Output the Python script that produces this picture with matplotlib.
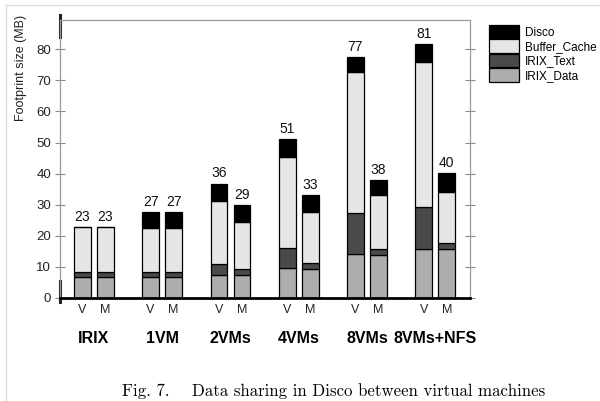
import matplotlib
matplotlib.use("Agg")
import matplotlib.pyplot as plt
from matplotlib.patches import Patch
from matplotlib.lines import Line2D
import numpy as np

plt.rcParams['font.family'] = ['Liberation Sans', 'DejaVu Sans']

# groups and the two bars per group
groups = ["IRIX", "1VM", "2VMs", "4VMs", "8VMs", "8VMs+NFS"]
bar_kinds = ["V", "M"]

# segment sizes (MB), order: V, M for each group
irix_data = [6.7, 6.7, 6.7, 6.7, 7.5, 7.5, 9.6, 9.3, 14.0, 13.7, 15.9, 15.9]
irix_text = [1.7, 1.7, 1.7, 1.7, 3.3, 1.7, 6.6, 1.8, 13.2, 1.9, 13.3, 1.7]
buffer_cache = [14.3, 14.3, 14.1, 14.1, 20.3, 15.1, 29.3, 16.5, 45.5, 17.5, 46.6, 16.6]
disco = [0.0, 0.0, 5.0, 5.0, 5.7, 5.5, 5.5, 5.4, 4.8, 4.8, 5.8, 5.9]
totals_label = [23, 23, 27, 27, 36, 29, 51, 33, 77, 38, 81, 40]

series_names = ["IRIX_Data", "IRIX_Text", "Buffer_Cache", "Disco"]
series_colors = ["#adadad", "#4a4a4a", "#e6e6e6", "#000000"]

fig = plt.figure(figsize=(6.0, 4.01), dpi=100)
ax = fig.add_axes([0.1, 0.2569, 0.6833, 0.6932])

# bar positions: V at group index, M offset to the right
xs = []
for i in range(len(groups)):
    xs.append(i)
    xs.append(i + 0.337)
xs = np.array(xs)
width = 0.244

bottom = np.zeros(len(xs))
for vals, name, col in zip([irix_data, irix_text, buffer_cache, disco], series_names, series_colors):
    vals = np.array(vals)
    ax.bar(xs, vals, width, bottom=bottom, color=col, edgecolor="black", linewidth=0.9, label=name)
    bottom = bottom + vals

# total labels above bars
for x, top, lab in zip(xs, bottom, totals_label):
    ax.text(x, top + 1.0, str(lab), ha="center", va="bottom", fontsize=10, color="#111111")

ax.set_xlim(-0.327, 5.677)
ax.set_ylim(0, 89.4)

ax.set_xticks(xs)
ax.set_xticklabels(bar_kinds * len(groups), fontsize=9, color="#222222")
ax.tick_params(axis="x", length=0, pad=4)

ax.set_yticks(np.arange(0, 90, 10))
ax.tick_params(axis="y", direction="inout", length=7, width=0.8, color="#8a8a8a",
               labelsize=9.5, labelcolor="#222222", right=True, pad=3)

# frame: thin gray, thick black bottom
for s in ["top", "right", "left"]:
    ax.spines[s].set_color("#9a9a9a")
    ax.spines[s].set_linewidth(0.9)
ax.spines["bottom"].set_color("black")
ax.spines["bottom"].set_linewidth(2.0)

# dark marks on the left axis line
tr = ax.get_yaxis_transform()
ax.plot([0, 0], [83.9, 91.0], color="#222222", lw=2.2, transform=tr, clip_on=False)
ax.plot([0, 0], [-1.4, 5.4], color="#222222", lw=2.2, transform=tr, clip_on=False)

fig.text(21 / 600, 1 - 68 / 401, "Footprint size (MB)", rotation=90, ha="center", va="center",
         fontsize=9, color="#222222")

# group names
for i, g in enumerate(groups):
    ax.text(i + 0.1685, -13.0, g, ha="center", va="center", fontsize=11.5, fontweight="bold",
            transform=ax.transData)

# legend, top series first
handles = [Patch(facecolor=c, edgecolor="black", linewidth=0.9) for c in series_colors[::-1]]
fig.legend(handles, series_names[::-1], loc="upper left", bbox_to_anchor=(489 / 600, 1 - 25 / 401),
           frameon=False, fontsize=8.5, handlelength=2.5, handleheight=1.4, labelspacing=0.05,
           handletextpad=0.55, borderpad=0, borderaxespad=0)

fig.text(334 / 600, 1 - 391 / 401, "Fig. 7.    Data sharing in Disco between virtual machines",
         ha="center", va="center", fontsize=12.1, family="cmr10")

# light border of the figure
fig.add_artist(Line2D([6 / 600, 1], [1 - 5 / 401, 1 - 5 / 401], color="#dddddd", lw=1))
fig.add_artist(Line2D([6 / 600, 6 / 600], [0, 1 - 5 / 401], color="#dddddd", lw=1))

fig.savefig("out.png", dpi=100)
